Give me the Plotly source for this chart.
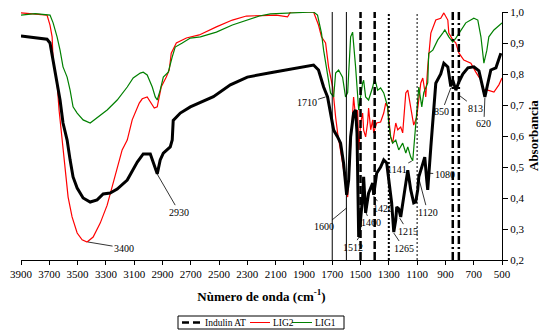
import plotly.graph_objects as go

# ---- Data (wavenumber cm-1, absorbance) ----
indulin_wn = [3900, 3800, 3716, 3695, 3673, 3645, 3624, 3603, 3574, 3553, 3532, 3503, 3461, 3411,
              3362, 3319, 3270, 3220, 3149, 3078, 3036, 2986, 2965, 2937, 2916, 2894, 2845, 2831,
              2824, 2774, 2703, 2540, 2420, 2300, 2137, 2016, 1903, 1832, 1797, 1761, 1733, 1712,
              1690, 1662, 1641, 1620, 1606, 1598, 1584, 1570, 1549, 1535, 1525, 1518, 1513, 1500,
              1485, 1478, 1471, 1464, 1443, 1428, 1414, 1407, 1386, 1358, 1336, 1315, 1301, 1280,
              1265, 1251, 1244, 1230, 1216, 1195, 1173, 1166, 1145, 1124, 1110, 1096, 1088, 1060,
              1046, 1032, 1025, 1003, 982, 968, 933, 911, 883, 862, 848, 826, 805, 777, 741, 699,
              663, 635, 621, 600, 579, 543, 508]
indulin_ab = [0.923, 0.918, 0.912, 0.900, 0.845, 0.771, 0.716, 0.642, 0.587, 0.523, 0.468, 0.432, 0.400, 0.387,
              0.394, 0.413, 0.416, 0.429, 0.458, 0.516, 0.542, 0.542, 0.513, 0.478, 0.523, 0.545, 0.565, 0.587,
              0.650, 0.674, 0.694, 0.727, 0.765, 0.790, 0.804, 0.813, 0.823, 0.829, 0.813, 0.758, 0.726, 0.674,
              0.619, 0.597, 0.577, 0.513, 0.458, 0.410, 0.458, 0.597, 0.674, 0.684, 0.610, 0.450, 0.274, 0.329,
              0.403, 0.468, 0.403, 0.352, 0.416, 0.432, 0.448, 0.410, 0.480, 0.500, 0.523, 0.513, 0.468, 0.384,
              0.290, 0.330, 0.371, 0.365, 0.339, 0.403, 0.468, 0.490, 0.426, 0.384, 0.387, 0.426, 0.468, 0.513,
              0.532, 0.458, 0.426, 0.565, 0.693, 0.770, 0.800, 0.835, 0.823, 0.760, 0.780, 0.748, 0.774, 0.800, 0.820, 0.823,
              0.810, 0.760, 0.726, 0.770, 0.813, 0.820, 0.867]

lig2_wn = [3900, 3716, 3695, 3680, 3673, 3645, 3631, 3610, 3589, 3567, 3539, 3503, 3468, 3433,
           3390, 3340, 3291, 3256, 3220, 3185, 3149, 3114, 3064, 3043, 3008, 2979, 2958, 2937,
           2909, 2873, 2852, 2838, 2802, 2731, 2640, 2519, 2406, 2307, 2165, 2095, 2016, 1995,
           1832, 1797, 1776, 1747, 1726, 1697, 1676, 1662, 1627, 1606, 1591, 1584, 1570, 1556,
           1549, 1528, 1520, 1513, 1499, 1485, 1478, 1464, 1450, 1443, 1428, 1414, 1407, 1386,
           1358, 1336, 1322, 1308, 1287, 1273, 1251, 1237, 1216, 1202, 1180, 1166, 1145, 1124,
           1103, 1088, 1074, 1060, 1039, 1025, 1003, 968, 933, 911, 883, 876, 848, 826, 805,
           770, 720, 685, 649, 628, 600, 557, 522, 500]
lig2_ab = [0.997, 0.990, 0.958, 0.920, 0.845, 0.771, 0.684, 0.587, 0.480, 0.403, 0.339, 0.287, 0.265, 0.258,
           0.274, 0.319, 0.377, 0.435, 0.500, 0.555, 0.587, 0.652, 0.706, 0.720, 0.726, 0.703, 0.690, 0.694,
           0.758, 0.790, 0.813, 0.867, 0.900, 0.916, 0.926, 0.952, 0.974, 0.987, 0.990, 0.990, 0.984, 1.000,
           1.000, 0.958, 0.920, 0.900, 0.823, 0.758, 0.661, 0.610, 0.513, 0.448, 0.403, 0.458, 0.555, 0.650,
           0.726, 0.629, 0.684, 0.555, 0.642, 0.674, 0.619, 0.597, 0.642, 0.690, 0.620, 0.652, 0.610, 0.642,
           0.645, 0.674, 0.706, 0.694, 0.597, 0.577, 0.642, 0.620, 0.629, 0.610, 0.739, 0.748, 0.684, 0.635,
           0.661, 0.716, 0.771, 0.787, 0.726, 0.823, 0.932, 0.974, 0.980, 0.997, 0.974, 0.932, 0.910, 0.900, 0.868,
           0.845, 0.835, 0.806, 0.780, 0.748, 0.748, 0.742, 0.765, 0.787]

lig1_wn = [3900, 3800, 3695, 3673, 3645, 3624, 3603, 3574, 3553, 3532, 3503, 3461, 3411, 3362,
           3291, 3220, 3149, 3107, 3057, 3036, 3008, 2972, 2951, 2937, 2916, 2894, 2859, 2831,
           2810, 2760, 2703, 2632, 2519, 2406, 2307, 2215, 2137, 1832, 1804, 1776, 1761, 1733,
           1712, 1690, 1676, 1655, 1627, 1606, 1591, 1570, 1556, 1535, 1520, 1513, 1485, 1478,
           1464, 1443, 1414, 1400, 1379, 1358, 1336, 1308, 1301, 1287, 1273, 1251, 1230, 1202,
           1180, 1166, 1145, 1131, 1117, 1103, 1088, 1067, 1053, 1025, 1018, 989, 954, 919, 904,
           876, 848, 826, 805, 756, 699, 671, 649, 628, 607, 593, 557, 522, 500]
lig1_ab = [0.990, 0.995, 0.990, 0.965, 0.920, 0.877, 0.823, 0.790, 0.748, 0.694, 0.674, 0.652, 0.642, 0.658,
           0.684, 0.716, 0.758, 0.787, 0.803, 0.806, 0.797, 0.758, 0.726, 0.716, 0.748, 0.790, 0.806, 0.855,
           0.887, 0.900, 0.916, 0.920, 0.935, 0.958, 0.974, 0.987, 0.994, 1.000, 0.990, 0.932, 0.877, 0.803,
           0.739, 0.726, 0.803, 0.813, 0.790, 0.726, 0.740, 0.920, 0.935, 0.823, 0.740, 0.684, 0.771, 0.780,
           0.726, 0.716, 0.758, 0.787, 0.748, 0.755, 0.739, 0.694, 0.642, 0.597, 0.577, 0.587, 0.555, 0.577,
           0.545, 0.565, 0.532, 0.520, 0.597, 0.674, 0.758, 0.694, 0.740, 0.771, 0.867, 0.877, 0.910, 0.932, 0.942,
           0.920, 0.903, 0.916, 0.932, 0.965, 0.980, 0.974, 0.920, 0.835, 0.877, 0.920, 0.942, 0.958, 0.965]

series_names = ["Indulin AT", "LIG2", "LIG1"]

# Reference band lines (wavenumber) and their styles
band_wn = [1700, 1600, 1500, 1400, 1300, 1100, 848, 805]
band_dash = ["solid", "solid", "8px,3px", "8px,3px", "2px,2px", "2px,2px", "8px,3px,2px,3px", "8px,3px,2px,3px"]
band_width = [1, 1, 2.5, 2.5, 2, 1, 2.5, 2.5]

# Peak labels: text, wavenumber, absorbance of the pointed location
peak_text = ["1710", "1600", "1512", "1460", "1420", "1265", "1215", "1141", "1120", "1080",
             "850", "813", "620", "2930", "3400"]
peak_wn = [1747, 1598, 1506, 1464, 1407, 1265, 1223, 1138, 1096, 1018, 862, 805, 621, 2937, 3426]
peak_ab = [0.726, 0.368, 0.277, 0.355, 0.406, 0.287, 0.335, 0.519, 0.477, 0.480, 0.755, 0.732, 0.723, 0.477, 0.258]
label_dx = [-19, -23, -7, 5, 9, 10, 8, -15, 10, 16, -9, 17, -1, 22, 36]
label_dy = [6, 19, 11, 11, 12, 15, 13, 8, 38, 1, 24, 13, 26, 38, 6]

xticks = list(range(3900, 499, -200))
yticks = [0.2, 0.3, 0.4, 0.5, 0.6, 0.7, 0.8, 0.9, 1.0]
FONT = "Liberation Serif"

fig = go.Figure()

fig.add_trace(go.Scatter(x=lig2_wn, y=lig2_ab, mode="lines", name=series_names[1], showlegend=False,
                         line=dict(color="#ff0000", width=1.2)))
fig.add_trace(go.Scatter(x=lig1_wn, y=lig1_ab, mode="lines", name=series_names[2], showlegend=False,
                         line=dict(color="#008000", width=1.2)))
fig.add_trace(go.Scatter(x=indulin_wn, y=indulin_ab, mode="lines", name=series_names[0], showlegend=False,
                         line=dict(color="black", width=3)))

for wn, dsh, w in zip(band_wn, band_dash, band_width):
    fig.add_shape(type="line", xref="x", yref="paper", x0=wn, x1=wn, y0=0, y1=1,
                  line=dict(color="black", width=w, dash=dsh))

for t, wn, ab, dx, dy in zip(peak_text, peak_wn, peak_ab, label_dx, label_dy):
    fig.add_annotation(x=wn, y=ab, text=t, showarrow=True, arrowhead=0, arrowwidth=0.8,
                       arrowcolor="black", ax=dx, ay=dy, standoff=0,
                       font=dict(family=FONT, size=10, color="black"))

# ---- pixel helpers for the plot area (paper coordinates) ----
def px_x(p):
    return (p - 21) / 481.0

def px_y(p):
    return (260 - p) / 248.0

# y-axis title on the right, as rotated text
fig.add_annotation(xref="paper", yref="paper", x=px_x(533), y=0.5, text="<b>Absorbancia</b>",
                   textangle=-90, showarrow=False, xanchor="center", yanchor="middle",
                   font=dict(family=FONT, size=13, color="black"))

# ---- compact boxed legend below the axis title ----
fig.add_shape(type="rect", xref="paper", yref="paper",
              x0=px_x(178), x1=px_x(344), y0=px_y(329), y1=px_y(316),
              line=dict(color="black", width=1), fillcolor="white")
leg_items = [(series_names[0], "black", 2.5, "7px,4px", 182, 201, 204),
             (series_names[1], "#ff0000", 1, "solid", 250, 270, 272),
             (series_names[2], "#008000", 1, "solid", 292, 312, 314)]
for name, col, w, dsh, xa, xb, xt in leg_items:
    fig.add_shape(type="line", xref="paper", yref="paper",
                  x0=px_x(xa), x1=px_x(xb), y0=px_y(322.5), y1=px_y(322.5),
                  line=dict(color=col, width=w, dash=dsh))
    fig.add_annotation(xref="paper", yref="paper", x=px_x(xt), y=px_y(322.5), text=name,
                       showarrow=False, xanchor="left", yanchor="middle",
                       font=dict(family=FONT, size=9.5, color="black"), borderpad=0)

fig.update_layout(
    width=541, height=332,
    margin=dict(l=21, r=39, t=12, b=72, pad=0),
    paper_bgcolor="white", plot_bgcolor="white",
    font=dict(family=FONT, size=11, color="black"),
    showlegend=False,
)
fig.update_xaxes(range=[3900, 500], tickvals=xticks, ticktext=[str(v) for v in xticks],
                 showgrid=False, zeroline=False, showline=True, linecolor="black", linewidth=1,
                 ticks="outside", ticklen=4, tickcolor="black", automargin=False,
                 tickfont=dict(family=FONT, size=11),
                 title=dict(text="<b>Nùmero de onda (cm<sup>-1</sup>)</b>",
                            font=dict(family=FONT, size=13), standoff=12))
fig.update_yaxes(range=[0.2, 1.0], tickvals=yticks,
                 ticktext=[f"{v:.1f}".replace(".", ",") for v in yticks], side="right",
                 showgrid=False, zeroline=False, showline=True, linecolor="black", linewidth=1,
                 ticks="outside", ticklen=5, tickcolor="black", automargin=False,
                 tickfont=dict(family=FONT, size=11))

# remove the default page margin so the 541x332 figure fills the window exactly
fig.write_html("out.html",
               config={"displayModeBar": False},
               post_script="document.body.style.margin='0';document.body.style.overflow='hidden';")
